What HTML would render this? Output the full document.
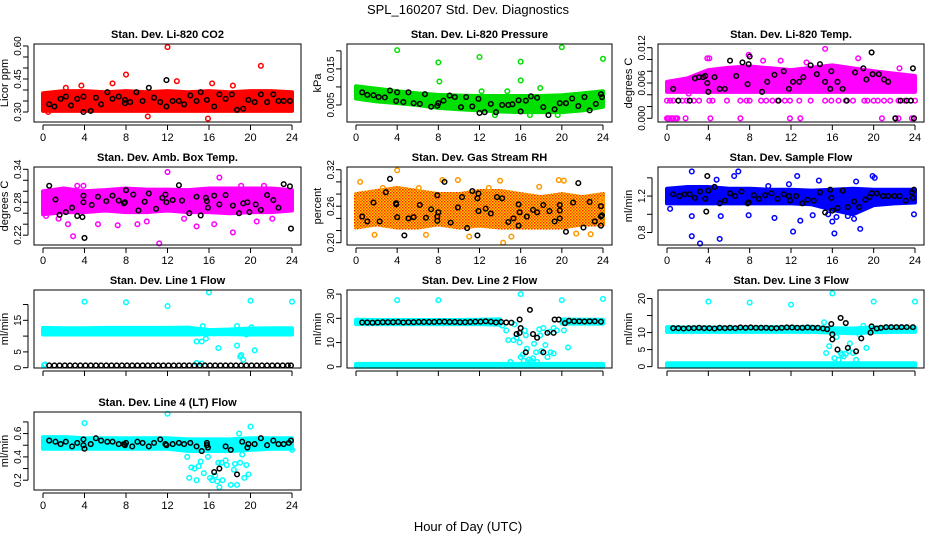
<!DOCTYPE html>
<html><head><meta charset="utf-8"><style>
html,body{margin:0;padding:0;background:#fff;}
svg{display:block;font-family:"Liberation Sans",sans-serif;}
</style></head><body>
<svg id="chart" width="936" height="540" viewBox="0 0 936 540" xmlns="http://www.w3.org/2000/svg">
<defs>
<pattern id="rhpat" width="3" height="3" patternUnits="userSpaceOnUse"><rect width="3" height="3" fill="#ffd000"/><rect width="1.5" height="1.5" fill="#ff2000"/><rect x="1.5" y="1.5" width="1.5" height="1.5" fill="#ff5000"/></pattern>
</defs>
<text x="468" y="14" text-anchor="middle" font-size="13">SPL_160207  Std. Dev. Diagnostics</text>
<text x="468" y="531" text-anchor="middle" font-size="13">Hour of Day (UTC)</text>
</svg>
<script>
// ---- shared categories ----
const bandHours=[0,2,4,6,8,10,12,14,16,18,20,22,24];
const xTicks=[0,4,8,12,16,20,24];

// ---- CO2 ----
const co2Lo=[0.305,0.305,0.305,0.305,0.305,0.305,0.305,0.305,0.305,0.305,0.305,0.305,0.305];
const co2Hi=[0.385,0.395,0.395,0.39,0.395,0.39,0.395,0.39,0.395,0.39,0.395,0.395,0.39];
const co2OutX=[12,21,8,3.7,12.9,10.1,15.9,6.7,16.3,2.2,18.3,0.5,23.9];
const co2OutY=[0.595,0.51,0.47,0.42,0.44,0.28,0.27,0.43,0.43,0.41,0.42,0.3,0.33];
const co2BlkX=[0.6,1.1,1.7,2.2,2.7,3.3,3.9,3.9,4.6,5.1,5.6,6.2,6.7,7.3,7.9,7.9,8.4,9,9.6,10.2,10.7,11.3,11.9,11.9,12.5,13.1,13.6,14.2,14.8,15.2,15.8,16.5,17,17.6,18.2,18.7,19.3,19.8,20.4,21,21.6,22.2,22.7,23.2,23.8];
const co2BlkY=[0.335,0.325,0.36,0.37,0.33,0.36,0.30,0.37,0.305,0.365,0.335,0.39,0.36,0.37,0.34,0.355,0.345,0.39,0.35,0.41,0.365,0.345,0.445,0.325,0.35,0.35,0.335,0.375,0.35,0.39,0.355,0.325,0.38,0.36,0.38,0.31,0.315,0.355,0.345,0.38,0.345,0.38,0.35,0.35,0.35];

// ---- Pressure ----
const prsLo=[0.0068,0.006,0.0055,0.005,0.0042,0.0038,0.0035,0.0032,0.003,0.003,0.003,0.0035,0.0045];
const prsHi=[0.0102,0.0095,0.0088,0.0082,0.0078,0.0076,0.0075,0.0075,0.0075,0.0075,0.0077,0.0082,0.0088];
const prsOutX=[4,8,8.1,12,16,16,20,24,17.9,19.6,13.5,12.2,14.7,16.9];
const prsOutY=[0.0202,0.0168,0.0115,0.0183,0.0170,0.0118,0.0210,0.0178,0.0097,0.0022,0.0022,0.0088,0.0088,0.0022];
const prsBlkX=[0.6,1.1,1.7,2.2,2.8,3.3,3.9,4.0,4.6,5.1,5.6,6.2,6.7,7.3,7.9,8.0,8.5,9.1,9.6,10.2,10.7,11.3,11.9,12.0,12.5,13.1,13.6,14.2,14.8,15.2,15.8,16.0,16.5,17.0,17.6,18.2,18.7,19.3,19.8,20.4,21.0,21.6,22.2,22.7,23.3,23.8,23.9];
const prsBlkY=[0.0085,0.0078,0.0077,0.0072,0.0071,0.0090,0.0061,0.0085,0.0058,0.0085,0.0055,0.0053,0.0080,0.0045,0.0048,0.0055,0.0062,0.0076,0.0072,0.0044,0.0072,0.0046,0.0067,0.0028,0.0030,0.0053,0.0030,0.0050,0.0050,0.0052,0.0063,0.0032,0.0062,0.0074,0.0070,0.0044,0.0022,0.0038,0.0055,0.0055,0.0068,0.0047,0.0072,0.0035,0.0053,0.0080,0.0072];

// ---- Li-820 Temp ----
const tmpLo=[0.0045,0.0045,0.0045,0.0045,0.0045,0.0045,0.0045,0.0045,0.0045,0.0045,0.0045,0.0045,0.0045];
const tmpHi=[0.0062,0.0068,0.0082,0.0086,0.0088,0.0085,0.0082,0.0086,0.009,0.0085,0.008,0.0076,0.0072];
const tmpRowX=[0,0.3,0.6,1.1,1.5,1.9,2.2,2.6,3.1,4.1,4.4,5.8,7.1,7.7,8.0,9.1,9.6,10.2,10.7,11.4,11.9,12.8,13.9,15.3,15.9,16.6,17.3,18.0,19.1,19.4,20.0,20.4,21.0,21.6,22.4,23.0,23.6,24.0];
const tmpRowY=[0.003,0.003,0.003,0.003,0.003,0.003,0.003,0.003,0.003,0.003,0.003,0.003,0.003,0.003,0.003,0.003,0.003,0.003,0.003,0.003,0.003,0.003,0.003,0.003,0.003,0.003,0.003,0.003,0.003,0.003,0.003,0.003,0.003,0.003,0.003,0.003,0.003,0.003];
const tmpZeroX=[0,0.2,0.4,0.6,0.8,1.0,1.8,4.2,7.1,11.9,12.9,20.8,22.1,22.4,23.7,23.9,0.1,0.5,0.9];
const tmpZeroY=[0,0,0,0,0,0,0,0,0,0,0,0,0,0,0,0,0,0,0];
const tmpOutX=[7.9,15.3,3.9,4.1,0.3,2.1,22.5,11,18.5,13.5,9.3];
const tmpOutY=[0.0108,0.0118,0.0102,0.0102,0.0052,0.0042,0.0085,0.0098,0.0102,0.0095,0.0098];
const tmpBlkX=[0.6,1.1,2.2,2.7,3.1,3.5,3.7,3.9,4.0,4.6,5.1,5.6,6.1,6.7,7.3,7.8,7.9,8.0,9.2,9.7,10.4,10.8,11.3,11.8,12.2,12.8,13.2,13.9,14.5,14.8,15.3,15.8,15.9,16.5,17.0,17.4,18.2,19.0,19.3,19.8,19.9,20.5,21.0,21.4,22.1,22.6,23.2,23.6,23.8,23.9];
const tmpBlkY=[0.005,0.003,0.003,0.0068,0.007,0.007,0.0072,0.006,0.0045,0.007,0.005,0.005,0.0098,0.0072,0.0095,0.0058,0.0092,0.0105,0.0045,0.0062,0.0074,0.003,0.008,0.005,0.0062,0.0062,0.007,0.009,0.0075,0.0092,0.0062,0.005,0.008,0.0062,0.005,0.003,0.0078,0.0085,0.0066,0.0112,0.0075,0.0075,0.0066,0.0062,0,0.003,0.003,0.003,0.0085,0];

// ---- Amb Box Temp ----
const ambLo=[0.258,0.262,0.262,0.265,0.262,0.262,0.265,0.262,0.262,0.26,0.262,0.262,0.265];
const ambHi=[0.30,0.305,0.30,0.302,0.305,0.303,0.303,0.302,0.305,0.305,0.305,0.305,0.302];
const ambOutX=[2.9,11.2,12,3.3,3.9,18.3,7.2,9.1,14.8,16.5,19.1,21.3,17,5.3,1.5,22.1,10,2.4,0.3,13.6,20.6];
const ambOutY=[0.218,0.205,0.335,0.31,0.31,0.225,0.238,0.24,0.236,0.24,0.31,0.31,0.325,0.24,0.25,0.25,0.245,0.24,0.255,0.25,0.245];
const ambBlkX=[0.6,1.2,1.6,2.2,2.8,3.3,3.8,3.9,3.9,4.0,4.7,5.3,6.1,6.7,7.3,7.8,7.9,8.0,8.7,9.2,9.8,10.2,10.9,11.5,11.8,11.9,12.5,13.1,13.4,14.1,14.8,15.2,15.7,15.8,15.9,16.5,17,17.6,18.3,18.9,19.3,19.7,19.9,20.5,21,21.6,22.2,22.7,23.2,23.8,23.9];
const ambBlkY=[0.31,0.285,0.257,0.262,0.27,0.255,0.253,0.28,0.292,0.215,0.275,0.29,0.282,0.292,0.283,0.278,0.28,0.302,0.294,0.265,0.281,0.296,0.268,0.288,0.294,0.28,0.284,0.311,0.283,0.26,0.29,0.256,0.288,0.282,0.27,0.292,0.276,0.293,0.274,0.26,0.278,0.28,0.262,0.276,0.266,0.293,0.284,0.27,0.313,0.309,0.232];

// ---- Gas Stream RH ----
const rhLo=[0.225,0.23,0.225,0.225,0.23,0.225,0.228,0.225,0.225,0.225,0.225,0.23,0.23];
const rhHi=[0.28,0.285,0.29,0.285,0.28,0.28,0.285,0.285,0.28,0.275,0.28,0.275,0.28];
const rhOutX=[0.4,4,8.4,9.9,6.8,14,14.3,19.7,20.2,1.8,11,22.8,2.6,6.1,12.9,17.8,15.1,21.4,0.2,23.9];
const rhOutY=[0.30,0.319,0.303,0.303,0.213,0.302,0.20,0.303,0.302,0.213,0.21,0.214,0.29,0.29,0.29,0.292,0.21,0.215,0.27,0.27];
const rhBlkX=[0.6,1.1,1.7,2.3,2.9,3.3,3.9,3.9,4.0,4.7,5.1,5.6,6.2,6.8,7.3,7.9,7.9,7.9,8.0,8.6,9.2,9.9,10.3,10.8,11.3,11.8,11.8,11.9,11.9,12.6,13.1,13.7,14.2,14.8,15.3,15.8,15.8,15.9,16.6,17.2,17.6,18.2,18.8,19.3,19.8,19.8,19.8,20.4,21.1,21.6,22.1,22.7,23.2,23.8,23.8,23.8,23.9];
const rhBlkY=[0.243,0.235,0.266,0.235,0.283,0.305,0.263,0.265,0.242,0.212,0.24,0.242,0.262,0.241,0.255,0.236,0.243,0.278,0.25,0.30,0.233,0.258,0.275,0.224,0.285,0.212,0.273,0.281,0.252,0.256,0.248,0.275,0.273,0.234,0.24,0.228,0.263,0.25,0.243,0.254,0.25,0.262,0.252,0.235,0.253,0.262,0.24,0.218,0.266,0.298,0.225,0.267,0.235,0.228,0.243,0.26,0.245];

// ---- Sample Flow ----
const sfLo=[1.12,1.12,1.12,1.12,1.12,1.12,1.12,1.11,1.05,1.0,1.1,1.12,1.13];
const sfHi=[1.28,1.30,1.30,1.28,1.28,1.27,1.27,1.26,1.27,1.28,1.27,1.27,1.27];
const sfOutX=[2.4,6.9,3.2,2.4,5.1,12.2,16.2,18.7,12.9,12.6,19.9,20.1,0.3,2.4,5.2,7.9,10.4,14.1,17.5,23.9,14.7,9.8,18.3,6.5,11.8,4.8,16,16.4,18.1,15.6];
const sfOutY=[1.47,1.47,0.68,0.76,0.73,0.81,0.79,0.84,0.93,1.42,1.42,1.40,1.06,0.98,0.98,0.99,0.96,0.99,0.98,1.00,1.37,1.31,1.36,1.42,1.33,1.38,0.92,0.97,0.95,1.0];
const sfBlkX=[0.6,1.2,1.7,2.2,2.7,3.2,3.7,3.8,3.9,4.0,4.6,5.1,5.6,6.1,6.6,7.2,7.8,7.9,8.4,8.9,9.5,10.1,10.7,11.3,11.8,11.9,12.5,13.1,13.6,14.2,14.8,15.3,15.8,15.9,16.0,16.5,17.0,17.5,18.1,18.6,19.2,19.6,19.8,20.3,20.9,21.4,22.0,22.5,23.1,23.7,23.8,23.9];
const sfBlkY=[1.22,1.2,1.22,1.22,1.18,1.25,1.17,1.03,1.42,1.26,1.3,1.12,1.15,1.23,1.2,1.25,1.12,1.13,1.21,1.17,1.21,1.23,1.17,1.22,1.2,1.15,1.2,1.12,1.16,1.15,1.24,1.02,1.27,1.18,1.04,1.07,1.26,1.08,1.14,1.08,1.16,1.19,1.23,1.23,1.2,1.2,1.2,1.2,1.15,1.24,1.18,1.27];

// ---- Line flows (half-hour categories) ----
const halfHours=[0.6,1.1,1.6,2.1,2.6,3.1,3.6,4.1,4.6,5.1,5.6,6.1,6.6,7.1,7.6,8.1,8.6,9.1,9.6,10.1,10.6,11.1,11.6,12.1,12.6,13.1,13.6,14.1,14.6,15.1,15.6,16.1,16.6,17.1,17.6,18.1,18.6,19.1,19.6,20.1,20.6,21.1,21.6,22.1,22.6,23.1,23.6,23.9];

// Line 1
const l1Lo=[10.5,10.5,10.5,10.5,10.5,10.5,10.5,10.5,10.6,10.6,10.5,10.5,10.5];
const l1Hi=[12.6,12.5,12.5,12.6,12.6,12.6,12.6,12.7,11.9,12.1,12.4,12.5,12.5];
const l1OutX=[4,8,12,16,20,24,14.8,15.3,15.7,16.9,18.7,19,19.1,19.3,19.6,20.4,15.3,14.8,15.4,18.7,20.1,0.2,0.1];
const l1OutY=[20.9,20.7,19.5,23.8,21.2,20.9,8.3,8.3,9.2,6.2,7,3.5,4,2.5,10.5,5.5,1.3,1.5,13.2,13.2,12.8,1,0.8];
const l1BlkY=[0.7,0.7,0.7,0.7,0.7,0.7,0.7,0.7,0.7,0.7,0.7,0.7,0.7,0.7,0.7,0.7,0.7,0.7,0.7,0.7,0.7,0.7,0.7,0.7,0.7,0.7,0.7,0.7,0.7,0.7,0.7,0.7,0.7,0.7,0.7,0.7,0.7,0.7,0.7,0.7,0.7,0.7,0.7,0.7,0.7,0.7,0.7,0.7];

// Line 2
const l2Lo=[17.6,17.6,17.6,17.6,17.6,17.6,17.6,17.4,17.8,17.8,17.8,17.8,17.8];
const l2Hi=[19.4,19.3,19.3,19.3,19.3,19.3,19.4,19.6,19.8,19.6,19.5,19.4,19.4];
const l2BaseLo=[0,0,0,0,0,0,0,0,0,0,0,0,0];
const l2BaseHi=[1.2,1.2,1.2,1.2,1.2,1.2,1.2,1.2,1.2,1.2,1.2,1.2,1.2];
const l2OutX=[4,8,16,20,24,14.6,14.8,15.3,15.6,15.9,16,16.3,16.5,16.6,16.8,17,17.3,17.5,17.6,17.9,18.2,18.4,18.6,18.9,19.2,19.5,19.2,20.2,20.6,14.2,15.4,16.4,17.8,18.8,15,17.2,18,16.2];
const l2OutY=[27.5,27.5,30,27.5,28,15,11,11,12,10,4,2.5,13,7.5,3,2.5,9.5,6,2,13,16,9,4,6,16,15,5.5,15,8,17,17.5,15,15.5,14.5,2,3.5,6.5,5];
const l2BlkX=[0.6,1.1,1.6,2.1,2.6,3.1,3.6,4.1,4.6,5.1,5.6,6.1,6.6,7.1,7.6,8.1,8.6,9.1,9.6,10.1,10.6,11.1,11.6,12.1,12.6,13.1,13.6,14.1,14.6,15.1,15.6,15.9,15.9,16.0,16.5,16.9,17.2,17.6,18.2,18.6,19.2,19.3,19.7,20.3,20.7,21.2,21.7,22.2,22.7,23.2,23.8];
const l2BlkY=[18.3,18.3,18.2,18.3,18.4,18.4,18.4,18.5,18.3,18.4,18.4,18.5,18.5,18.5,18.5,18.6,18.6,18.5,18.5,18.4,18.4,18.5,18.6,18.6,18.8,18.6,18.3,18.5,18.3,18.2,13.5,14,19.5,16,6,23.5,13.5,12,6,14,14,19.5,19.5,18,19,18.8,18.8,18.7,18.8,18.8,18.6];

// Line 3
const l3Lo=[10.2,10.2,10.2,10.2,10.2,10.2,10.2,10.2,10.0,9.8,10.1,10.2,10.2];
const l3Hi=[11.6,11.5,11.5,11.5,11.5,11.6,11.6,11.7,11.3,11.2,11.5,11.5,11.5];
const l3BaseLo=[0,0,0,0,0,0,0,0,0,0,0,0,0];
const l3BaseHi=[1.0,1.0,1.0,1.0,1.0,1.0,1.0,1.0,1.0,1.0,1.0,1.0,1.0];
const l3OutX=[4,8,12,16,20,24,15.4,15.7,16.2,16.4,16.6,16.8,17.1,17.3,17.7,18,18.3,19.3,15.2,16.9,17.6,18.6,19.0];
const l3OutY=[19.1,18.8,18.2,21.5,19.1,19.1,4,6,2.5,8.7,2,4,3,3.8,6.8,4,2,5.5,13,3.5,4.5,9.5,12];
const l3BlkX=[0.6,1.1,1.6,2.1,2.6,3.1,3.6,4.1,4.6,5.1,5.6,6.1,6.6,7.1,7.6,8.1,8.6,9.1,9.6,10.1,10.6,11.1,11.6,12.1,12.6,13.1,13.6,14.1,14.6,15.1,15.5,15.9,16.0,16.0,16.5,16.8,17.3,17.5,18.3,18.8,19.7,19.8,20.3,20.7,21.2,21.7,22.2,22.7,23.2,23.8];
const l3BlkY=[11.3,11.3,11.2,11.3,11.3,11.4,11.3,11.3,11.2,11.4,11.3,11.4,11.3,11.5,11.4,11.5,11.4,11.4,11.4,11.3,11.3,11.4,11.5,11.5,11.4,11.4,11.5,11.4,11.4,11.2,11.0,12.5,9.5,8,5,14.3,12.8,5.5,4.5,8.3,10,11.8,11.2,11.4,11.6,11.6,11.6,11.6,11.6,11.6];

// Line 4
const l4Lo=[0.47,0.47,0.47,0.47,0.47,0.47,0.47,0.45,0.45,0.45,0.46,0.47,0.47];
const l4Hi=[0.57,0.57,0.56,0.56,0.56,0.56,0.56,0.55,0.55,0.55,0.56,0.56,0.56];
const l4OutX=[4,12,20,13.9,14.1,14.3,14.6,14.8,15,15.2,15.5,15.9,16.1,16.3,16.6,16.8,17,16.9,17.2,17.3,17.6,17.7,18.1,18.4,18.5,18.7,18.9,19,19.2,19.4,19.6,19.8,24];
const l4OutY=[0.69,0.77,0.66,0.4,0.22,0.31,0.3,0.2,0.32,0.36,0.26,0.4,0.22,0.2,0.24,0.19,0.14,0.35,0.35,0.2,0.37,0.33,0.16,0.29,0.34,0.16,0.6,0.35,0.42,0.22,0.33,0.25,0.46];
const l4BlkX=[0.6,1.2,1.7,2.2,2.8,3.3,3.9,3.9,4.0,4.6,5.1,5.6,6.2,6.7,7.3,7.8,7.9,8.0,8.6,9.1,9.6,10.2,10.7,11.3,11.8,11.9,12.5,13.1,13.6,14.2,14.8,15.3,15.8,15.8,15.9,16.5,17.0,17.6,18.1,18.7,19.2,19.7,19.8,20.4,21.0,21.6,22.2,22.7,23.2,23.7,23.9];
const l4BlkY=[0.54,0.53,0.51,0.53,0.49,0.52,0.55,0.5,0.47,0.51,0.56,0.54,0.53,0.53,0.51,0.51,0.5,0.52,0.49,0.53,0.52,0.49,0.52,0.55,0.51,0.5,0.51,0.52,0.51,0.52,0.49,0.45,0.52,0.5,0.48,0.27,0.3,0.49,0.46,0.25,0.53,0.48,0.51,0.51,0.56,0.5,0.54,0.51,0.51,0.52,0.54];

// ---- drawing ----
const NS="http://www.w3.org/2000/svg";
const svg=document.getElementById("chart");
const cols=[{l:34,r:301},{l:347,r:612},{l:658,r:924}];
const rows=[44,167,290,412];
const PH=78;
function mk(tag,attrs,parent){const e=document.createElementNS(NS,tag);for(const k in attrs)e.setAttribute(k,attrs[k]);(parent||svg).appendChild(e);return e;}

function makePanel(name,col,row,title,ylab,ymin,ymax,yt,ytl,showXLabels){
  const c=cols[col],top=rows[row],bot=top+PH;
  const g=mk("g",{});
  
  
  const x0=c.l+9,pw=(c.r-c.l-18)/24;
  const p={g:g,sx:v=>x0+v*pw,sy:v=>bot-(v-ymin)/(ymax-ymin)*PH,l:c.l,r:c.r,top:top,bot:bot};
  const t=mk("text",{x:(c.l+c.r)/2,y:top-6,"text-anchor":"middle","font-size":"11","font-weight":"bold"},g);
  t.textContent=title;
  
  
  const yl=mk("text",{x:0,y:0,"text-anchor":"middle","font-size":"11",transform:`translate(${c.l-26},${(top+bot)/2}) rotate(-90)`},g);
  yl.textContent=ylab;
  
  
  const ya=mk("g",{},g);
  
  
  const yy=yt.map(p.sy);
  mk("line",{x1:c.l-6,x2:c.l-6,y1:Math.min(...yy),y2:Math.max(...yy),stroke:"#000","stroke-width":1},ya);
  yt.forEach((v,i)=>{const y=p.sy(v);
    mk("line",{x1:c.l-6,x2:c.l-11,y1:y,y2:y,stroke:"#000","stroke-width":1},ya);
    if(ytl[i]){const tl=mk("text",{x:0,y:0,"text-anchor":"middle","font-size":"10",transform:`translate(${c.l-13},${y}) rotate(-90)`},ya);tl.textContent=ytl[i];}
  });
  const xa=mk("g",{},g);
  
  
  mk("line",{x1:p.sx(0),x2:p.sx(24),y1:bot+3,y2:bot+3,stroke:"#000","stroke-width":1},xa);
  xTicks.forEach(v=>{const x=p.sx(v);
    mk("line",{x1:x,x2:x,y1:bot+3,y2:bot+8,stroke:"#000","stroke-width":1},xa);
    if(showXLabels){const tl=mk("text",{x:x,y:bot+19,"text-anchor":"middle","font-size":"11"},xa);tl.textContent=v;}
  });
  const plot=mk("g",{},g);
  
  
  p.plot=plot;
  const box=mk("rect",{x:c.l,y:top,width:c.r-c.l,height:PH,fill:"none",stroke:"#000","stroke-width":1},g);
  
  
  return p;
}
function band(p,xs,lo,hi,fill,name){
  let d="M"+xs.map((x,i)=>p.sx(x)+","+p.sy(hi[i])).join("L");
  for(let i=xs.length-1;i>=0;i--)d+="L"+p.sx(xs[i])+","+p.sy(lo[i]);
  const e=mk("path",{d:d+"Z",fill:fill,stroke:fill,"stroke-width":4,"stroke-linejoin":"round"},p.plot);
  
  
}
function pts(p,xs,ys,color,name){
  const g=mk("g",{},p.plot);
  
  
  xs.forEach((x,i)=>{
    const cc=mk("circle",{cx:p.sx(x),cy:p.sy(ys[i]),r:2.3,fill:"none",stroke:color,"stroke-width":1.5},g);
    
    
  });
}

let p;
p=makePanel("co2",0,0,"Stan. Dev. Li-820 CO2","Licor ppm",0.2545,0.609,[0.30,0.35,0.40,0.45,0.50,0.55,0.60],["0.30","","","0.45","","","0.60"],true);
band(p,bandHours,co2Lo,co2Hi,"#ff0000","co2-cloud");pts(p,co2OutX,co2OutY,"#ff0000","co2-outliers");pts(p,co2BlkX,co2BlkY,"#000","co2-black-series");

p=makePanel("pressure",1,0,"Stan. Dev. Li-820 Pressure","kPa",0.00028,0.0219,[0.005,0.010,0.015,0.020],["0.005","","0.015",""],true);
band(p,bandHours,prsLo,prsHi,"#00e000","pressure-cloud");pts(p,prsOutX,prsOutY,"#00e000","pressure-outliers");pts(p,prsBlkX,prsBlkY,"#000","pressure-black-series");

p=makePanel("li820-temp",2,0,"Stan. Dev. Li-820 Temp.","degrees C",-0.00063,0.01263,[0,0.002,0.004,0.006,0.008,0.010,0.012],["0.000","","","0.006","","","0.012"],true);
band(p,bandHours,tmpLo,tmpHi,"#ff00ff","temp-cloud");pts(p,tmpRowX,tmpRowY,"#ff00ff","temp-level-row");pts(p,tmpZeroX,tmpZeroY,"#ff00ff","temp-zero-row");pts(p,tmpOutX,tmpOutY,"#ff00ff","temp-outliers");pts(p,tmpBlkX,tmpBlkY,"#000","temp-black-series");

p=makePanel("amb-box-temp",0,1,"Stan. Dev. Amb. Box Temp.","degrees C",0.2021,0.3442,[0.22,0.24,0.26,0.28,0.30,0.32,0.34],["0.22","","","0.28","","","0.34"],true);
band(p,bandHours,ambLo,ambHi,"#ff00ff","amb-cloud");pts(p,ambOutX,ambOutY,"#ff00ff","amb-outliers");pts(p,ambBlkX,ambBlkY,"#000","amb-black-series");

p=makePanel("gas-rh",1,1,"Stan. Dev. Gas Stream RH","percent",0.1962,0.3245,[0.20,0.22,0.24,0.26,0.28,0.30,0.32],["0.20","","","0.26","","","0.32"],true);
band(p,bandHours,rhLo,rhHi,"url(#rhpat)","rh-cloud");pts(p,rhOutX,rhOutY,"#ff9900","rh-outliers");pts(p,rhBlkX,rhBlkY,"#000","rh-black-series");

p=makePanel("sample-flow",2,1,"Stan. Dev. Sample Flow","ml/min",0.663,1.519,[0.8,1.0,1.2,1.4],["0.8","","1.2",""],true);
band(p,bandHours,sfLo,sfHi,"#0000ff","flow-cloud");pts(p,sfOutX,sfOutY,"#0000ff","flow-outliers");pts(p,sfBlkX,sfBlkY,"#000","flow-black-series");

p=makePanel("line1",0,2,"Stan. Dev. Line 1 Flow","ml/min",-0.1,24.6,[0,5,10,15,20],["0","5","","15",""],false);
band(p,bandHours,l1Lo,l1Hi,"#00ffff","line1-cloud");pts(p,l1OutX,l1OutY,"#00ffff","line1-outliers");pts(p,halfHours,l1BlkY,"#000","line1-black-series");

p=makePanel("line2",1,2,"Stan. Dev. Line 2 Flow","ml/min",-0.5,31.7,[0,10,20,30],["0","10","20","30"],false);
band(p,bandHours.slice(0,8),l2Lo.slice(0,8),l2Hi.slice(0,8),"#00ffff","line2-cloud");band(p,bandHours.slice(10),l2Lo.slice(10),l2Hi.slice(10),"#00ffff","line2-cloud-late");
band(p,bandHours,l2BaseLo,l2BaseHi,"#00ffff","line2-base");pts(p,l2OutX,l2OutY,"#00ffff","line2-outliers");pts(p,l2BlkX,l2BlkY,"#000","line2-black-series");

p=makePanel("line3",2,2,"Stan. Dev. Line 3 Flow","ml/min",-0.4,22.5,[0,5,10,15,20],["0","5","10","","20"],false);
band(p,bandHours,l3Lo,l3Hi,"#00ffff","line3-cloud");band(p,bandHours,l3BaseLo,l3BaseHi,"#00ffff","line3-base");pts(p,l3OutX,l3OutY,"#00ffff","line3-outliers");pts(p,l3BlkX,l3BlkY,"#000","line3-black-series");

p=makePanel("line4",0,3,"Stan. Dev. Line 4 (LT) Flow","ml/min",0.116,0.785,[0.2,0.3,0.4,0.5,0.6,0.7],["0.2","","0.4","","0.6",""],true);
band(p,bandHours,l4Lo,l4Hi,"#00ffff","line4-cloud");pts(p,l4OutX,l4OutY,"#00ffff","line4-outliers");pts(p,l4BlkX,l4BlkY,"#000","line4-black-series");
</script>
</body></html>
